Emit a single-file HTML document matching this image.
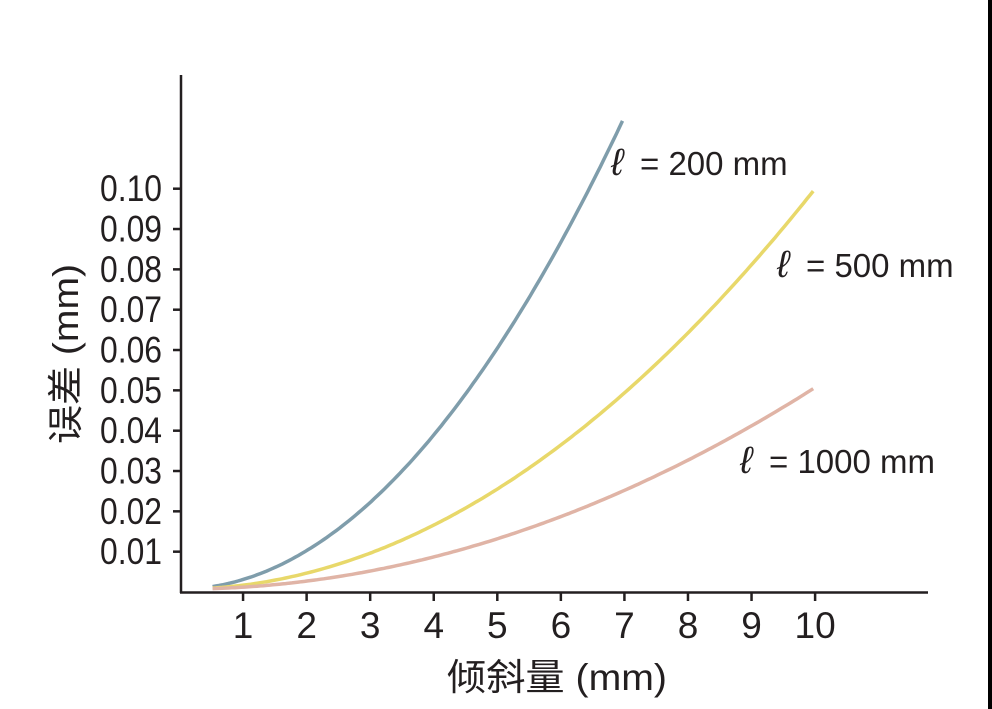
<!DOCTYPE html>
<html><head><meta charset="utf-8"><style>
html,body{margin:0;padding:0;background:#fff;}
svg{display:block}
text{font-family:"Liberation Sans","Noto Sans CJK SC",sans-serif;fill:#231f20}
</style></head><body>
<svg width="992" height="709" viewBox="0 0 992 709" xmlns="http://www.w3.org/2000/svg">
<rect x="0" y="0" width="992" height="709" fill="#fff"/>
<rect x="988" y="0" width="4" height="709" fill="#000"/>
<g stroke="#231f20" stroke-width="2.5" fill="none">
<line x1="181" y1="75" x2="181" y2="593"/>
<line x1="180" y1="592.5" x2="928" y2="592.5"/>
<g id="yt"></g><g id="xt"></g>
</g>
<g id="yl" font-size="37"></g>
<g id="xl" font-size="37" text-anchor="middle"></g>
<path id="pb" fill="none" stroke="#7f9dab" stroke-width="3.5"/>
<path id="py" fill="none" stroke="#e8d86a" stroke-width="3.5"/>
<path id="pp" fill="none" stroke="#e0b4a6" stroke-width="3.5"/>
<text x="0" y="0" font-size="36" transform="translate(78,444) rotate(-90)" textLength="180" lengthAdjust="spacingAndGlyphs" fill="#333">误差 (mm)</text>
<text x="447" y="690" font-size="37" textLength="220" lengthAdjust="spacingAndGlyphs" fill="#333">倾斜量 (mm)</text>
<g font-size="33">
<text x="611" y="175" font-family="Liberation Serif,serif" font-style="italic" font-size="38">ℓ</text>
<text x="640" y="175">= 200 mm</text>
<text x="777" y="277" font-family="Liberation Serif,serif" font-style="italic" font-size="38">ℓ</text>
<text x="806" y="277">= 500 mm</text>
<text x="740" y="473" font-family="Liberation Serif,serif" font-style="italic" font-size="38">ℓ</text>
<text x="769" y="473">= 1000 mm</text>
</g>
<script>
var NS="http://www.w3.org/2000/svg";
function X(v){return 179.5+63.56*v;}
function Y(e){return 592-4033*e;}
var yt=document.getElementById('yt'),yl=document.getElementById('yl');
for(var i=1;i<=10;i++){var y=Y(i*0.01);
var l=document.createElementNS(NS,'line');l.setAttribute('x1',173);l.setAttribute('x2',181);l.setAttribute('y1',y);l.setAttribute('y2',y);yt.appendChild(l);
var t=document.createElementNS(NS,'text');t.setAttribute('x',100);t.setAttribute('y',y+12.5);t.setAttribute('textLength',62);t.setAttribute('lengthAdjust','spacingAndGlyphs');t.textContent='0.'+(i<10?'0'+i:'10');yl.appendChild(t);}
var xt=document.getElementById('xt'),xl=document.getElementById('xl');
for(var i=1;i<=10;i++){var x=X(i);
var l=document.createElementNS(NS,'line');l.setAttribute('x1',x);l.setAttribute('x2',x);l.setAttribute('y1',592);l.setAttribute('y2',601);xt.appendChild(l);
var t=document.createElementNS(NS,'text');t.setAttribute('x',x);t.setAttribute('y',638);t.textContent=i;xl.appendChild(t);}
function curve(id,k,vmax){var d='';for(var v=0.52;v<=vmax+1e-9;v+=0.05){d+=(d?'L':'M')+X(v).toFixed(1)+' '+(Y(k*v*v+0.0007)).toFixed(1);}document.getElementById(id).setAttribute('d',d);}
curve('pb',0.00239,7.0);curve('py',0.000993,10.0);curve('pp',0.0005,10.0);
</script>
</svg>
</body></html>
